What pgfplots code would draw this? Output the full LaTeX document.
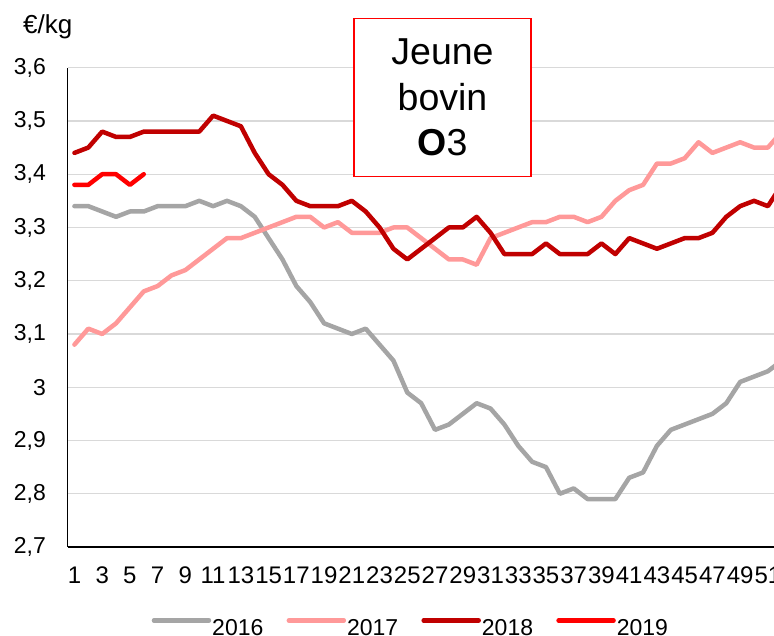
\documentclass[border=0pt]{standalone}
\usepackage{pgfplots}
\pgfplotsset{compat=1.18}
\usepackage{pgfplotstable}
\usepackage{fontspec}
\setmainfont{Liberation Sans}
\definecolor{c16}{HTML}{A5A5A5}
\definecolor{c17}{HTML}{FF9999}
\definecolor{c18}{HTML}{C00000}
\definecolor{c19}{HTML}{FF0000}
\definecolor{gridc}{HTML}{D9D9D9}

\pgfplotstableread{
w y16 y17 y18
1 3.34 3.08 3.44
2 3.34 3.11 3.45
3 3.33 3.10 3.48
4 3.32 3.12 3.47
5 3.33 3.15 3.47
6 3.33 3.18 3.48
7 3.34 3.19 3.48
8 3.34 3.21 3.48
9 3.34 3.22 3.48
10 3.35 3.24 3.48
11 3.34 3.26 3.51
12 3.35 3.28 3.50
13 3.34 3.28 3.49
14 3.32 3.29 3.44
15 3.28 3.30 3.40
16 3.24 3.31 3.38
17 3.19 3.32 3.35
18 3.16 3.32 3.34
19 3.12 3.30 3.34
20 3.11 3.31 3.34
21 3.10 3.29 3.35
22 3.11 3.29 3.33
23 3.08 3.29 3.30
24 3.05 3.30 3.26
25 2.99 3.30 3.24
26 2.97 3.28 3.26
27 2.92 3.26 3.28
28 2.93 3.24 3.30
29 2.95 3.24 3.30
30 2.97 3.23 3.32
31 2.96 3.28 3.29
32 2.93 3.29 3.25
33 2.89 3.30 3.25
34 2.86 3.31 3.25
35 2.85 3.31 3.27
36 2.80 3.32 3.25
37 2.81 3.32 3.25
38 2.79 3.31 3.25
39 2.79 3.32 3.27
40 2.79 3.35 3.25
41 2.83 3.37 3.28
42 2.84 3.38 3.27
43 2.89 3.42 3.26
44 2.92 3.42 3.27
45 2.93 3.43 3.28
46 2.94 3.46 3.28
47 2.95 3.44 3.29
48 2.97 3.45 3.32
49 3.01 3.46 3.34
50 3.02 3.45 3.35
51 3.03 3.45 3.34
52 3.05 3.48 3.38
}\data

\pgfplotstableread{
w y
1 3.38
2 3.38
3 3.40
4 3.40
5 3.38
6 3.40
}\dataB

\begin{document}
\begin{tikzpicture}
\path[use as bounding box] (0,0) rectangle (774bp,636bp);
\begin{axis}[
  at={(67.5bp,89bp)}, anchor=south west,
  scale only axis, width=706.5bp, height=479.3bp,
  xmin=0.5, xmax=51.44, ymin=2.7, ymax=3.6,
  axis x line*=bottom, axis y line*=left,
  axis line style={black, line width=1.3bp},
  xtick={1,3,...,51},
  ytick={2.7,2.8,2.9,3.0,3.1,3.2,3.3,3.4,3.5,3.6},
  ymajorgrids, major grid style={gridc, line width=1.3bp},
  major tick length=0pt,
  tick label style={/pgf/number format/assume math mode=true},
  x tick label style={font=\fontsize{24bp}{24bp}\selectfont, anchor=north, inner sep=0pt, yshift=-20bp},
  y tick label style={font=\fontsize{23bp}{23bp}\selectfont, anchor=east, inner sep=0pt, xshift=-21.5bp,
     /pgf/number format/.cd, use comma, fixed, precision=1},
  every axis plot/.append style={line width=4.5bp, line join=round, line cap=round},
  legend columns=4,
  legend style={at={(0.1192,-0.1684)}, anchor=west, draw=none, fill=none, inner sep=0pt, outer sep=0pt,
     font=\fontsize{23bp}{23bp}\selectfont, nodes={inner sep=0pt},
     /tikz/every odd column/.style={column sep=1bp},
     /tikz/every even column/.style={column sep=23.2bp}},
  legend cell align=left,
  legend image code/.code={\draw[#1, line cap=round] (0bp,8bp) -- (55bp,8bp);},
]
\addplot[c16] table[x=w, y=y16] {\data};
\addlegendentry{2016}
\addplot[c17] table[x=w, y=y17] {\data};
\addlegendentry{2017}
\addplot[c18] table[x=w, y=y18] {\data};
\addlegendentry{2018}
\addplot[c19] table[x=w, y=y] {\dataB};
\addlegendentry{2019}
\end{axis}
\node[draw=c19, line width=1.3bp, fill=white, minimum width=177bp, minimum height=158.4bp, inner sep=0pt,
  align=center, font=\fontsize{37.5bp}{45.5bp}\selectfont] at (442.5bp,538.5bp) {Jeune\\bovin\\\textbf{O}3};
\node[anchor=base west, inner sep=0pt, font=\fontsize{26bp}{26bp}\selectfont] at (23bp,602.7bp) {€/kg};
\end{tikzpicture}
\end{document}
